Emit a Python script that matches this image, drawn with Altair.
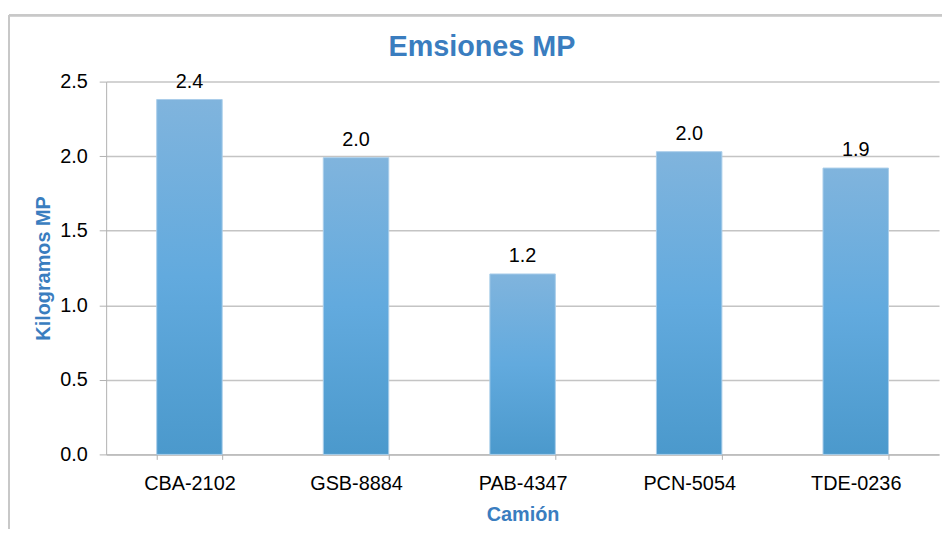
import altair as alt
import pandas as pd

camiones = ["CBA-2102", "GSB-8884", "PAB-4347", "PCN-5054", "TDE-0236"]
emisiones = [2.38, 1.99, 1.21, 2.03, 1.92]
etiquetas = ["2.4", "2.0", "1.2", "2.0", "1.9"]
titulo = "Emsiones MP"

df = pd.DataFrame({"Camión": camiones, "Kg": emisiones, "Etiqueta": etiquetas})

blue = "#3a7dbf"
FONT = "Liberation Sans"

x_enc = alt.X(
    "Camión:N",
    sort=camiones,
    scale=alt.Scale(paddingInner=0.607, paddingOuter=0.3035),
    axis=alt.Axis(
        title="Camión",
        labelAngle=0,
        tickBand="extent",
        tickSize=5,
        labelPadding=14,
        titlePadding=12,
        domainColor="#b0b0b0",
        tickColor="#b0b0b0",
        labelFontSize=20,
        labelColor="#000000",
        titleFontSize=20,
        titleColor=blue,
        titleFontWeight="bold",
    ),
)

y_enc = alt.Y(
    "Kg:Q",
    scale=alt.Scale(domain=[0, 2.5], nice=False),
    axis=alt.Axis(
        title="Kilogramos MP",
        values=[0, 0.5, 1.0, 1.5, 2.0, 2.5],
        format=".1f",
        tickSize=7,
        labelPadding=12,
        titlePadding=6,
        domainColor="#b0b0b0",
        tickColor="#b0b0b0",
        gridColor="#c4c4c4",
        gridWidth=1.5,
        labelFontSize=20,
        labelColor="#000000",
        titleFontSize=20,
        titleColor=blue,
        titleFontWeight="bold",
    ),
)

gradient = alt.Gradient(
    gradient="linear",
    stops=[
        alt.GradientStop(color="#80b4dd", offset=0),
        alt.GradientStop(color="#62aade", offset=0.5),
        alt.GradientStop(color="#4b99cc", offset=1),
    ],
    x1=0, x2=0, y1=0, y2=1,
)

base = alt.Chart(df)

bars = base.mark_bar(color=gradient, stroke="#a9cdea", strokeWidth=1).encode(x=x_enc, y=y_enc)

labels = base.mark_text(baseline="bottom", dy=-8, fontSize=20, color="#000000",
                        font=FONT).encode(
    x=alt.X("Camión:N", sort=camiones),
    y="Kg:Q",
    text="Etiqueta:N",
)

title_mark = alt.Chart(pd.DataFrame({"t": [titulo]})).mark_text(
    fontSize=29, fontWeight="bold", color=blue, font=FONT, baseline="middle", align="center"
).encode(x=alt.value(379), y=alt.value(-35), text="t:N")

frame_left = alt.Chart(df).mark_rule(color="#c8c8c8", strokeWidth=2).encode(
    x=alt.value(-98), y=alt.value(-67), y2=alt.value(460)
)
frame_top = alt.Chart(df).mark_rule(color="#c8c8c8", strokeWidth=2).encode(
    x=alt.value(-98), x2=alt.value(845), y=alt.value(-67)
)

chart = (
    alt.layer(frame_left, frame_top, bars, labels, title_mark)
    .properties(
        width=840,
        height=376,
        autosize=alt.AutoSizeParams(type="none"),
        padding={"left": 99, "top": 72, "right": 3, "bottom": 73},
    )
    .configure(font=FONT)
    .configure_view(stroke=None)
)

chart.save("out.html", embed_options={"renderer": "svg", "actions": False})
